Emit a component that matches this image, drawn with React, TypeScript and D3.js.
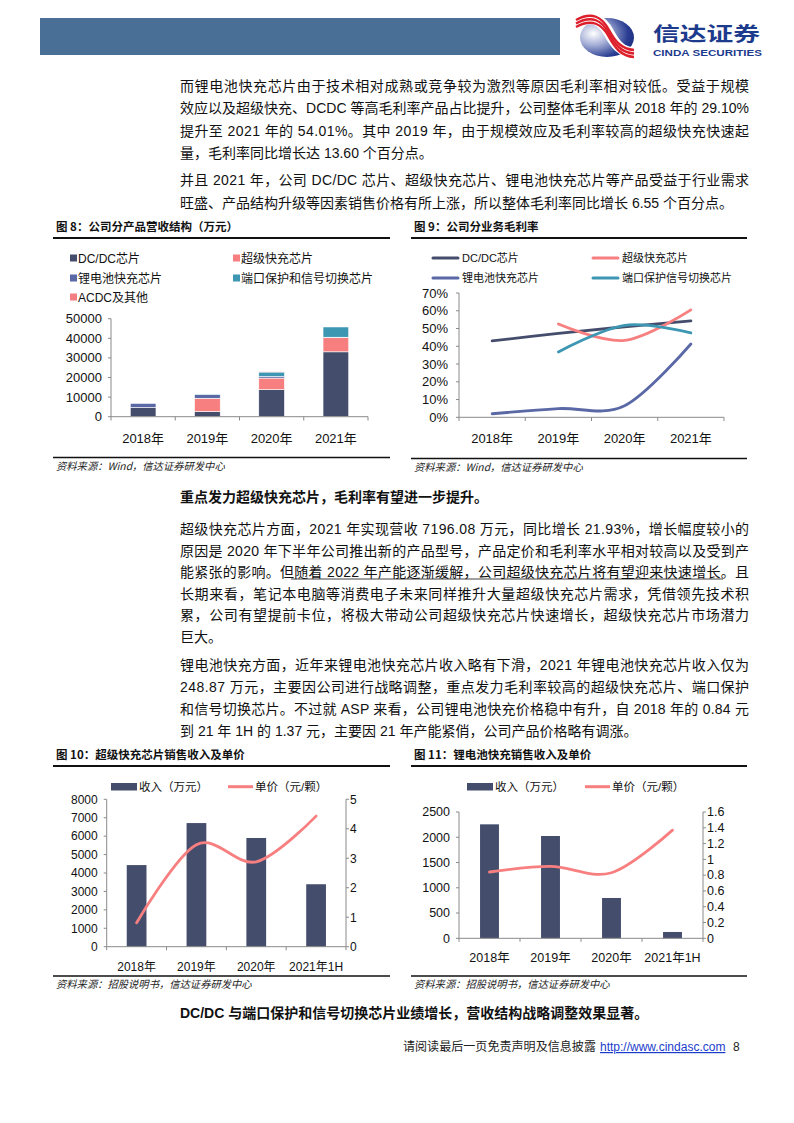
import React from 'react';
import * as d3 from 'd3';

const FONT = '"Liberation Sans", Arial, "Noto Sans CJK SC", sans-serif';
const CJK = '"Noto Sans CJK SC", "Liberation Sans", sans-serif';

// ---------- Fig 8 data ----------
const years = ['2018年', '2019年', '2020年', '2021年'];
const revDcdc = [4700, 2600, 13800, 33100];
const revSuper = [0, 6800, 5900, 7200];
const revLithium = [2100, 2000, 790, 250];
const revPort = [0, 200, 2300, 5300];
const revAcdc = [0, 0, 150, 150];
const ticks8 = [0, 10000, 20000, 30000, 40000, 50000];
const series8 = ['DC/DC芯片', '超级快充芯片', '锂电池快充芯片', '端口保护和信号切换芯片', 'ACDC及其他'];
const colors8 = ['#454d6c', '#f77f80', '#5a68a6', '#3d97b3', '#f47f82'];

// ---------- Fig 9 data ----------
const marginDcdc = [43.0, 47.3, 51.0, 54.3];
const marginSuper = [null, 52.5, 43.3, 60.5];
const marginLithium = [2.0, 4.9, 6.5, 41.3];
const marginPort = [null, 36.8, 51.8, 47.5];
const ticks9 = [0, 10, 20, 30, 40, 50, 60, 70];
const series9 = ['DC/DC芯片', '超级快充芯片', '锂电池快充芯片', '端口保护信号切换芯片'];
const colors9 = ['#454d6c', '#f77f80', '#5a68a6', '#3d97b3'];

// ---------- Fig 10 / 11 data ----------
const periods = ['2018年', '2019年', '2020年', '2021年1H'];
const superRevenue = [4430, 6710, 5900, 3390];
const superPrice = [0.81, 3.46, 2.88, 4.43];
const ticks10L = [0, 1000, 2000, 3000, 4000, 5000, 6000, 7000, 8000];
const ticks10R = [0, 1, 2, 3, 4, 5];
const lithiumRevenue = [2256, 2025, 798, 125];
const lithiumPrice = [0.84, 0.91, 0.83, 1.37];
const ticks11L = [0, 500, 1000, 1500, 2000, 2500];
const ticks11R = [0, 0.2, 0.4, 0.6, 0.8, 1, 1.2, 1.4, 1.6];

// ---------- text ----------
const para1 = [
  '而锂电池快充芯片由于技术相对成熟或竞争较为激烈等原因毛利率相对较低。受益于规模',
  '效应以及超级快充、DCDC 等高毛利率产品占比提升，公司整体毛利率从 2018 年的 29.10%',
  '提升至 2021 年的 54.01%。其中 2019 年，由于规模效应及毛利率较高的超级快充快速起',
  '量，毛利率同比增长达 13.60 个百分点。',
];
const para2 = [
  '并且 2021 年，公司 DC/DC 芯片、超级快充芯片、锂电池快充芯片等产品受益于行业需求',
  '旺盛、产品结构升级等因素销售价格有所上涨，所以整体毛利率同比增长 6.55 个百分点。',
];
const heading1 = '重点发力超级快充芯片，毛利率有望进一步提升。';
const para3 = [
  '超级快充芯片方面，2021 年实现营收 7196.08 万元，同比增长 21.93%，增长幅度较小的',
  '原因是 2020 年下半年公司推出新的产品型号，产品定价和毛利率水平相对较高以及受到产',
  '能紧张的影响。但随着 2022 年产能逐渐缓解，公司超级快充芯片将有望迎来快速增长。且',
  '长期来看，笔记本电脑等消费电子未来同样推升大量超级快充芯片需求，凭借领先技术积',
  '累，公司有望提前卡位，将极大带动公司超级快充芯片快速增长，超级快充芯片市场潜力',
  '巨大。',
];
const para4 = [
  '锂电池快充方面，近年来锂电池快充芯片收入略有下滑，2021 年锂电池快充芯片收入仅为',
  '248.87 万元，主要因公司进行战略调整，重点发力毛利率较高的超级快充芯片、端口保护',
  '和信号切换芯片。不过就 ASP 来看，公司锂电池快充价格稳中有升，自 2018 年的 0.84 元',
  '到 21 年 1H 的 1.37 元，主要因 21 年产能紧俏，公司产品价格略有调涨。',
];
const heading2 = 'DC/DC 与端口保护和信号切换芯片业绩增长，营收结构战略调整效果显著。';

function Para({ lines, y0, step }: { lines: string[]; y0: number; step: number }) {
  return (
    <g fontFamily={FONT} fontSize={14} fill="#111">
      {lines.map((l, i) => {
        const last = i === lines.length - 1;
        return (
          <text key={i} x={180} y={y0 + i * step} {...(last ? {} : { textLength: 569, lengthAdjust: 'spacing' })}>
            {l}
          </text>
        );
      })}
    </g>
  );
}

function Frame({ x0, x1, title, yTop, yBottom, source }: any) {
  return (
    <g>
      <text x={x0 + 3} y={yTop - 7} fontFamily={CJK} fontWeight="bold" fontSize={11.5} fill="#111">{title}</text>
      <line x1={x0} x2={x1} y1={yTop} y2={yTop} stroke="#111" strokeWidth={2} />
      <line x1={x0} x2={x1} y1={yBottom} y2={yBottom} stroke="#111" strokeWidth={1.5} />
      <text x={x0 + 3} y={yBottom + 12} fontFamily={CJK} fontStyle="italic" fontSize={10.3} fill="#222">{source}</text>
    </g>
  );
}

function Fig8() {
  const x = d3.scaleBand<string>().domain(years).range([111, 368]).padding(0);
  const y = d3.scaleLinear().domain([0, 50000]).range([416.7, 318.7]);
  const rows = years.map((yr, i) => ({ yr, s0: revDcdc[i], s1: revSuper[i], s2: revLithium[i], s3: revPort[i], s4: revAcdc[i] }));
  const stack = d3.stack<any>().keys(['s0', 's1', 's2', 's3', 's4'])(rows);
  const bw = x.bandwidth() * 0.4;
  const legendPos = [[70, 258], [233, 258], [70, 278], [233, 278], [70, 297]];
  return (
    <g fontFamily={FONT}>
      <Frame x0={53} x1={390} yTop={238} yBottom={457.5} title="图 8：公司分产品营收结构（万元）" source="资料来源：Wind，信达证券研发中心" />
      {series8.map((s, i) => (
        <g key={s}>
          <rect x={legendPos[i][0]} y={legendPos[i][1] - 3.5} width={7} height={7} fill={colors8[i]} />
          <text x={legendPos[i][0] + 8} y={legendPos[i][1] + 4.5} fontSize={12} fill="#111">{s}</text>
        </g>
      ))}
      {stack.map((layer, li) =>
        layer.map((d, i) => {
          const h = y(d[0]) - y(d[1]);
          if (h <= 0) return null;
          return (
            <rect key={li + '-' + i} x={x(years[i])! + (x.bandwidth() - bw) / 2} y={y(d[1])} width={bw} height={h}
              fill={colors8[li]} stroke="#fff" strokeWidth={0.6} />
          );
        })
      )}
      <line x1={111} x2={111} y1={318.7} y2={416.7} stroke="#8a8a8a" />
      <line x1={111} x2={368} y1={416.7} y2={416.7} stroke="#8a8a8a" />
      {ticks8.map(t => (
        <g key={t}>
          <line x1={108} x2={111} y1={y(t)} y2={y(t)} stroke="#8a8a8a" />
          <text x={102} y={y(t) + 4.5} fontSize={13} textAnchor="end" fill="#111">{t}</text>
        </g>
      ))}
      {[...years.map(v => x(v)!), 368].map((v, i) => (
        <line key={i} x1={v} x2={v} y1={416.7} y2={420.5} stroke="#8a8a8a" />
      ))}
      {years.map(v => (
        <text key={v} x={x(v)! + x.bandwidth() / 2} y={442.5} fontSize={13} textAnchor="middle" fill="#111">{v}</text>
      ))}
    </g>
  );
}

function Fig9() {
  const x = d3.scaleBand<string>().domain(years).range([459, 724]).padding(0);
  const y = d3.scaleLinear().domain([0, 70]).range([417.3, 293]);
  const data = [marginDcdc, marginSuper, marginLithium, marginPort];
  const line = d3.line<any>()
    .x(d => x(d.yr)! + x.bandwidth() / 2)
    .y(d => y(d.v))
    .curve(d3.curveCatmullRom.alpha(0));
  const legendPos = [[433, 258], [593, 258], [433, 278], [593, 278]];
  return (
    <g fontFamily={FONT}>
      <Frame x0={411} x1={747} yTop={238} yBottom={458.5} title="图 9：公司分业务毛利率" source="资料来源：Wind，信达证券研发中心" />
      {series9.map((s, i) => (
        <g key={s}>
          <line x1={legendPos[i][0]} x2={legendPos[i][0] + 25} y1={legendPos[i][1]} y2={legendPos[i][1]} stroke={colors9[i]} strokeWidth={3} strokeLinecap="round" />
          <text x={legendPos[i][0] + 29} y={legendPos[i][1] + 4} fontSize={11} fill="#111">{s}</text>
        </g>
      ))}
      <line x1={459} x2={459} y1={293} y2={417.3} stroke="#8a8a8a" />
      <line x1={459} x2={724} y1={417.3} y2={417.3} stroke="#8a8a8a" />
      {ticks9.map(t => (
        <g key={t}>
          <line x1={456} x2={459} y1={y(t)} y2={y(t)} stroke="#8a8a8a" />
          <text x={448} y={y(t) + 4.5} fontSize={13} textAnchor="end" fill="#111">{t + '%'}</text>
        </g>
      ))}
      {[...years.map(v => x(v)!), 724].map((v, i) => (
        <line key={i} x1={v} x2={v} y1={417.3} y2={421} stroke="#8a8a8a" />
      ))}
      {years.map(v => (
        <text key={v} x={x(v)! + x.bandwidth() / 2} y={442.5} fontSize={13} textAnchor="middle" fill="#111">{v}</text>
      ))}
      {data.map((arr, i) => (
        <path key={i} d={line(years.map((yr, j) => ({ yr, v: arr[j] })).filter(d => d.v != null)) || ''}
          fill="none" stroke={colors9[i]} strokeWidth={2.8} strokeLinecap="round" />
      ))}
    </g>
  );
}

function ComboChart({ x0, x1, title, axisL, axisR, yTop, yBase, revenue, price, domL, domR, ticksL, ticksR, barFrac, legendX, fs }: any) {
  const x = d3.scaleBand<string>().domain(periods).range([axisL, axisR]).padding(0);
  const yL = d3.scaleLinear().domain(domL).range([yBase, yTop]);
  const yR = d3.scaleLinear().domain(domR).range([yBase, yTop]);
  const bw = x.bandwidth() * barFrac;
  const line = d3.line<any>()
    .x(d => x(d.p)! + x.bandwidth() / 2)
    .y(d => yR(d.v))
    .curve(d3.curveCatmullRom.alpha(0));
  return (
    <g fontFamily={FONT}>
      <Frame x0={x0} x1={x1} yTop={766} yBottom={976} title={title} source="资料来源：招股说明书，信达证券研发中心" />
      <rect x={legendX[0]} y={783} width={26} height={7.5} fill="#454d6c" />
      <text x={legendX[0] + 28} y={791} fontSize={11.5} fill="#111">收入（万元）</text>
      <line x1={legendX[1]} x2={legendX[1] + 25} y1={786.7} y2={786.7} stroke="#f77f80" strokeWidth={3} />
      <text x={legendX[1] + 27} y={791} fontSize={11.5} fill="#111">单价（元/颗）</text>
      {revenue.map((v: number, i: number) => (
        <rect key={i} x={x(periods[i])! + (x.bandwidth() - bw) / 2} y={yL(v)} width={bw} height={yBase - yL(v)} fill="#454d6c" />
      ))}
      <path d={line(periods.map((p, i) => ({ p, v: price[i] }))) || ''} fill="none" stroke="#f77f80" strokeWidth={2.8} strokeLinecap="round" />
      <line x1={axisL} x2={axisL} y1={yTop} y2={yBase} stroke="#8a8a8a" />
      <line x1={axisR} x2={axisR} y1={yTop} y2={yBase} stroke="#8a8a8a" />
      <line x1={axisL} x2={axisR} y1={yBase} y2={yBase} stroke="#8a8a8a" />
      {ticksL.map((t: number) => (
        <g key={t}>
          <line x1={axisL - 3} x2={axisL} y1={yL(t)} y2={yL(t)} stroke="#8a8a8a" />
          <text x={axisL - 9} y={yL(t) + 4.3} fontSize={fs} textAnchor="end" fill="#111">{t}</text>
        </g>
      ))}
      {ticksR.map((t: number) => (
        <g key={t}>
          <line x1={axisR} x2={axisR + 3} y1={yR(t)} y2={yR(t)} stroke="#8a8a8a" />
          <text x={axisR + 4} y={yR(t) + 4.3} fontSize={fs} fill="#111">{String(t)}</text>
        </g>
      ))}
      {[...periods.map(v => x(v)!), axisR].map((v, i) => (
        <line key={i} x1={v} x2={v} y1={yBase} y2={yBase + 3.5} stroke="#8a8a8a" />
      ))}
      {periods.map(v => (
        <text key={v} x={x(v)! + x.bandwidth() / 2} y={yBase + 24} fontSize={fs} textAnchor="middle" fill="#111">{v}</text>
      ))}
    </g>
  );
}

function Logo() {
  const swoosh = (dy: number) =>
    `M${576},${23 + dy} C${592},${14 + dy} ${602},${20 + dy} ${609},${33 + dy} C${615},${44 + dy} ${621},${52 + dy} ${634},${53 + dy}`;
  return (
    <g>
      <defs>
        <radialGradient id="lg" cx="0.25" cy="0.4" r="0.85">
          <stop offset="0" stopColor="#ffffff" />
          <stop offset="0.35" stopColor="#a4aed6" />
          <stop offset="0.75" stopColor="#2a3d92" />
          <stop offset="1" stopColor="#15277a" />
        </radialGradient>
      </defs>
      <ellipse cx={607} cy={37.5} rx={27} ry={19.5} fill="url(#lg)" />
      <path d={swoosh(0)} fill="none" stroke="#fff" strokeWidth={11} />
      <path d={swoosh(-3)} fill="none" stroke="#dd1f2b" strokeWidth={2.4} />
      <path d={swoosh(0.5)} fill="none" stroke="#dd1f2b" strokeWidth={2.4} />
      <path d={swoosh(4)} fill="none" stroke="#dd1f2b" strokeWidth={2.4} />
      <text x={653} y={40.5} fontFamily={CJK} fontWeight="bold" fontSize={19.5} fill="#1d3b8c" textLength={107} lengthAdjust="spacingAndGlyphs">信达证券</text>
      <text x={653} y={56} fontFamily={FONT} fontWeight="bold" fontSize={9} fill="#1d3b8c" textLength={109} lengthAdjust="spacingAndGlyphs">CINDA SECURITIES</text>
    </g>
  );
}

export default function App() {
  return (
    <svg width={794} height={1123} style={{ position: 'absolute', left: 0, top: 0, background: '#fff' }}>
      <rect x={0} y={0} width={794} height={1123} fill="#fff" />
      <rect x={40} y={18} width={520} height={37} fill="#4a6f97" />
      <Logo />
      <Para lines={para1} y0={91} step={22.3} />
      <Para lines={para2} y0={185} step={22.5} />
      <Fig8 />
      <Fig9 />
      <text x={180} y={502} fontFamily={CJK} fontWeight="bold" fontSize={14} fill="#111">{heading1}</text>
      <Para lines={para3} y0={534} step={21.6} />
      <line x1={291} x2={723} y1={579} y2={579} stroke="#111" strokeWidth={0.8} />
      <Para lines={para4} y0={670} step={22} />
      <ComboChart x0={53} x1={390} title="图 10：超级快充芯片销售收入及单价" axisL={106.7} axisR={346} yTop={799.3} yBase={946.7}
        revenue={superRevenue} price={superPrice} domL={[0, 8000]} domR={[0, 5]} ticksL={ticks10L} ticksR={ticks10R}
        barFrac={0.33} legendX={[111, 228]} fs={12} />
      <ComboChart x0={411} x1={747} title="图 11：锂电池快充销售收入及单价" axisL={459} axisR={703} yTop={812} yBase={938.3}
        revenue={lithiumRevenue} price={lithiumPrice} domL={[0, 2500]} domR={[0, 1.6]} ticksL={ticks11L} ticksR={ticks11R}
        barFrac={0.31} legendX={[467, 585]} fs={12.5} />
      <text x={180} y={1018} fontFamily={FONT} fontWeight="bold" fontSize={14} fill="#111">{heading2}</text>
      <g fontFamily={FONT} fontSize={12}>
        <text x={403} y={1051} fill="#222" textLength={193} lengthAdjust="spacingAndGlyphs">请阅读最后一页免责声明及信息披露</text>
        <text x={600} y={1051} fill="#1a3ccc" textDecoration="underline">http://www.cindasc.com</text>
        <text x={733} y={1051} fill="#222">8</text>
      </g>
    </svg>
  );
}
